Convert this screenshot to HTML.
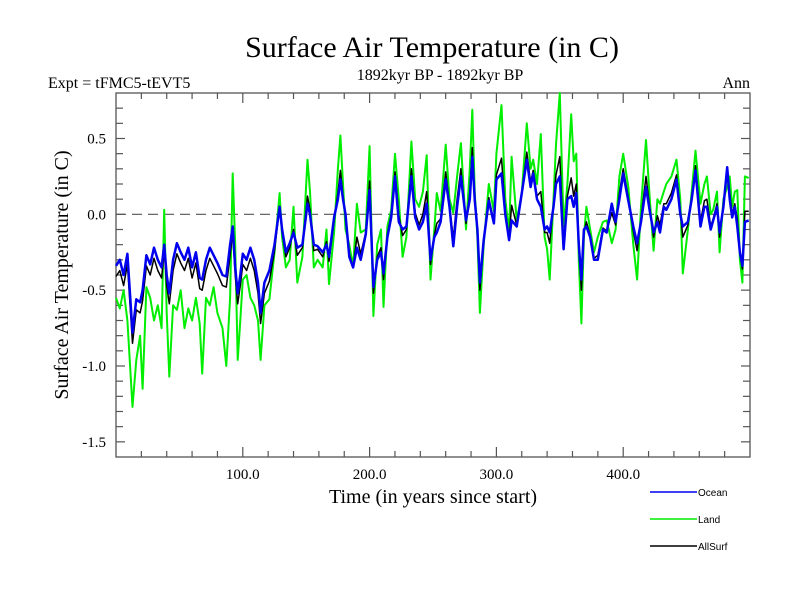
<!DOCTYPE html>
<html><head><meta charset="utf-8"><style>
body{margin:0;background:#fff;}
svg{display:block;}
.serif{font-family:"Liberation Serif",serif;}
.sans{font-family:"Liberation Sans",sans-serif;}
</style></head><body>
<svg id="chart" width="800" height="600" viewBox="0 0 800 600" xmlns="http://www.w3.org/2000/svg">
<rect width="800" height="600" fill="#fff"/>
<text class="serif" x="432" y="57" font-size="30" text-anchor="middle">Surface Air Temperature (in C)</text>
<text class="serif" x="48" y="88" font-size="16">Expt = tFMC5-tEVT5</text>
<text class="serif" x="440" y="80" font-size="16" text-anchor="middle">1892kyr BP - 1892kyr BP</text>
<text class="serif" x="750" y="88" font-size="16" text-anchor="end">Ann</text>
<text class="serif" font-size="20" text-anchor="middle" transform="translate(68,275) rotate(-90)">Surface Air Temperature (in C)</text>
<text class="serif" x="433" y="503" font-size="20" text-anchor="middle">Time (in years since start)</text>
<g id="axes"></g>
<g id="series"></g>
<g id="legend"></g>
</svg>
<script>
const years=[0,3,6,9,13,16,19,21,24,27,30,33,36,38,40,42,45,48,51,54,57,60,63,66,68,71,74,77,80,84,87,90,92,94,96,98,100,103,106,109,112,114,117,121,125,129,131,134,137,140,143,147,151,153,156,159,163,166,168,172,175,177,179,181,184,187,190,193,197,200,203,206,209,211,214,217,220,223,226,229,233,236,239,242,245,248,251,253,256,260,263,266,269,272,276,279,281,283,285,287,290,294,298,300,304,307,310,312,316,320,324,327,329,332,335,338,340,342,345,347,350,353,356,359,361,363,365,367,369,371,374,377,380,384,387,391,394,397,400,404,408,411,414,418,421,424,427,429,432,434,438,442,445,447,451,454,457,461,464,466,469,471,474,476,479,482,484,486,488,490,492,494,496,499];
const ocean=[-0.34,-0.30,-0.40,-0.26,-0.78,-0.56,-0.58,-0.50,-0.27,-0.33,-0.22,-0.30,-0.35,-0.20,-0.40,-0.52,-0.30,-0.19,-0.25,-0.30,-0.22,-0.35,-0.25,-0.42,-0.43,-0.30,-0.22,-0.27,-0.32,-0.40,-0.41,-0.20,-0.08,-0.35,-0.52,-0.40,-0.26,-0.30,-0.22,-0.30,-0.45,-0.65,-0.45,-0.37,-0.20,0.05,-0.10,-0.25,-0.19,-0.12,-0.22,-0.20,0.07,0.00,-0.20,-0.21,-0.25,-0.20,-0.28,-0.02,0.10,0.23,0.10,0.00,-0.28,-0.35,-0.22,-0.30,-0.13,0.16,-0.48,-0.30,-0.25,-0.39,-0.15,-0.02,0.25,-0.05,-0.10,-0.08,0.25,-0.02,-0.10,-0.05,0.07,-0.30,-0.15,-0.12,-0.05,0.23,0.05,-0.21,0.05,0.25,-0.04,0.10,0.38,0.09,-0.10,-0.45,-0.17,0.09,-0.06,0.23,0.27,0.00,-0.17,-0.04,-0.08,0.14,0.36,0.18,0.27,0.10,0.05,-0.10,-0.08,-0.12,0.05,0.20,0.25,-0.23,0.10,0.12,0.05,0.14,-0.20,-0.43,-0.10,-0.08,-0.15,-0.30,-0.30,-0.10,-0.12,0.07,-0.05,0.10,0.27,0.09,-0.08,-0.19,-0.05,0.18,0.02,-0.12,-0.05,-0.12,0.05,0.03,0.10,0.23,0.00,-0.08,-0.05,0.10,0.29,-0.08,0.05,0.05,-0.10,-0.04,0.05,-0.12,0.05,0.31,0.10,-0.02,0.05,-0.08,-0.25,-0.34,-0.05,-0.04];
const land=[-0.55,-0.62,-0.50,-0.70,-1.27,-0.96,-0.80,-1.15,-0.48,-0.55,-0.70,-0.60,-0.75,0.03,-0.65,-1.07,-0.60,-0.63,-0.50,-0.75,-0.62,-0.70,-0.55,-0.72,-1.05,-0.55,-0.60,-0.48,-0.65,-0.75,-1.00,-0.55,0.27,-0.20,-0.96,-0.70,-0.43,-0.40,-0.55,-0.60,-0.70,-0.96,-0.60,-0.56,-0.25,0.14,-0.15,-0.35,-0.30,0.05,-0.45,-0.28,0.36,0.15,-0.35,-0.30,-0.35,-0.10,-0.46,-0.12,0.30,0.52,0.20,-0.10,-0.20,-0.35,0.07,-0.12,-0.10,0.45,-0.67,-0.20,-0.10,-0.61,-0.08,0.03,0.40,0.10,-0.28,-0.15,0.48,0.10,0.05,0.15,0.39,-0.43,-0.10,0.14,0.02,0.46,0.10,0.01,0.25,0.47,-0.10,0.30,0.69,0.14,-0.15,-0.65,-0.20,0.20,0.02,0.40,0.72,0.10,-0.12,0.38,-0.04,0.14,0.60,0.30,0.36,0.20,0.53,-0.15,-0.23,-0.43,0.10,0.46,0.80,-0.08,0.20,0.66,0.35,0.40,-0.30,-0.72,-0.15,0.05,-0.10,-0.25,-0.15,-0.05,-0.04,-0.19,-0.10,0.25,0.40,0.18,-0.20,-0.43,0.05,0.49,0.10,-0.24,0.10,0.07,0.15,0.20,0.25,0.36,0.10,-0.39,-0.10,0.15,0.42,0.07,0.20,0.25,0.00,0.03,0.15,-0.25,0.10,0.18,0.25,0.05,0.15,0.16,-0.30,-0.45,0.25,0.24];
const allSurf=[-0.41,-0.37,-0.47,-0.33,-0.85,-0.63,-0.65,-0.57,-0.34,-0.40,-0.29,-0.37,-0.42,-0.24,-0.47,-0.59,-0.37,-0.26,-0.32,-0.37,-0.29,-0.42,-0.32,-0.49,-0.50,-0.37,-0.29,-0.34,-0.39,-0.47,-0.48,-0.27,-0.12,-0.40,-0.59,-0.47,-0.33,-0.37,-0.29,-0.37,-0.52,-0.72,-0.52,-0.44,-0.24,0.05,-0.12,-0.28,-0.22,-0.10,-0.27,-0.22,0.12,0.03,-0.24,-0.23,-0.28,-0.18,-0.31,-0.04,0.14,0.29,0.12,-0.02,-0.26,-0.35,-0.15,-0.26,-0.12,0.22,-0.52,-0.28,-0.22,-0.43,-0.13,0.00,0.28,-0.01,-0.14,-0.10,0.30,0.01,-0.07,0.00,0.15,-0.33,-0.14,-0.06,-0.03,0.28,0.06,-0.16,0.10,0.30,-0.06,0.14,0.44,0.10,-0.12,-0.50,-0.18,0.11,-0.05,0.26,0.37,0.02,-0.16,0.06,-0.07,0.14,0.41,0.21,0.29,0.12,0.15,-0.12,-0.12,-0.19,0.06,0.26,0.38,-0.20,0.12,0.24,0.12,0.20,-0.22,-0.50,-0.12,-0.05,-0.14,-0.29,-0.27,-0.09,-0.11,0.01,-0.07,0.14,0.30,0.11,-0.11,-0.24,-0.03,0.25,0.04,-0.15,-0.01,-0.07,0.07,0.07,0.14,0.26,0.02,-0.15,-0.07,0.11,0.32,-0.05,0.09,0.10,-0.08,-0.03,0.07,-0.15,0.06,0.28,0.14,0.00,0.07,-0.03,-0.26,-0.36,0.02,0.02];
const yTickLabels=["-1.5","-1.0","-0.5","0.0","0.5"];
const yTickValues=[-1.5,-1.0,-0.5,0.0,0.5];
const xTickLabels=["100.0","200.0","300.0","400.0"];
const xTickValues=[100,200,300,400];
const seriesNames=["Ocean","Land","AllSurf"];

const NS="http://www.w3.org/2000/svg";
const L=116,R=750,T=93,B=457,X0=0,X1=500,Y0=-1.6,Y1=0.8;
function sx(v){return L+(v-X0)/(X1-X0)*(R-L);}
function sy(v){return B-(v-Y0)/(Y1-Y0)*(B-T);}
function mk(tag,attrs,parent){const e=document.createElementNS(NS,tag);for(const k in attrs)e.setAttribute(k,attrs[k]);parent.appendChild(e);return e;}
const axes=document.getElementById('axes');
const frame=mk('rect',{x:L,y:T,width:R-L,height:B-T,fill:'none',stroke:'#555','stroke-width':1.3},axes);


for(let v=20;v<X1;v+=20){
  const major=(v%100===0);const len=major?10:6;
  const t1=mk('line',{x1:sx(v),x2:sx(v),y1:B,y2:B-len,stroke:'#555','stroke-width':1.2},axes);
  
  
  const t2=mk('line',{x1:sx(v),x2:sx(v),y1:T,y2:T+len,stroke:'#555','stroke-width':1.2},axes);
  
  
}
xTickValues.forEach((v,i)=>{
  const t=mk('text',{x:sx(v),y:479,'font-size':15,'text-anchor':'middle','class':'serif'},axes);
  t.textContent=xTickLabels[i];
  
  
});
for(let k=-15;k<=7;k++){
  const v=k/10;const len=(k%5===0)?9:7;
  const a=mk('line',{x1:L,x2:L+len,y1:sy(v),y2:sy(v),stroke:'#555','stroke-width':1.2},axes);
  
  
  const b=mk('line',{x1:R,x2:R-len,y1:sy(v),y2:sy(v),stroke:'#555','stroke-width':1.2},axes);
  
  
}
yTickValues.forEach((v,i)=>{
  const t=mk('text',{x:106,y:sy(v)+5,'font-size':15,'text-anchor':'end','class':'serif'},axes);
  t.textContent=yTickLabels[i];
  
  
});
const zl=mk('line',{x1:L,x2:R,y1:sy(0),y2:sy(0),stroke:'#555','stroke-width':1.2,'stroke-dasharray':'10,6'},axes);


const sg=document.getElementById('series');
function line(vals,color,w,name){
  const d=vals.map((v,i)=>(i?'L':'M')+sx(years[i]).toFixed(1)+','+sy(v).toFixed(1)).join(' ');
  const p=mk('path',{d:d,fill:'none',stroke:color,'stroke-width':w,'stroke-linejoin':'round'},sg);
  
  
}
line(land,'#00ee00',2,'land-line');
line(allSurf,'#000',1.5,'allsurf-line');
line(ocean,'#0000ee',2.5,'ocean-line');
const lg=document.getElementById('legend');
const lcolors=['#0000ee','#00ee00','#000'];
seriesNames.forEach((n,i)=>{
  const y=492+i*27;
  const l=mk('line',{x1:650,x2:697,y1:y,y2:y,stroke:lcolors[i],'stroke-width':1.5},lg);
  
  
  const t=mk('text',{x:698,y:y+4,'font-size':10,'class':'sans'},lg);
  t.textContent=n;
  
  
});
</script>
</body></html>
